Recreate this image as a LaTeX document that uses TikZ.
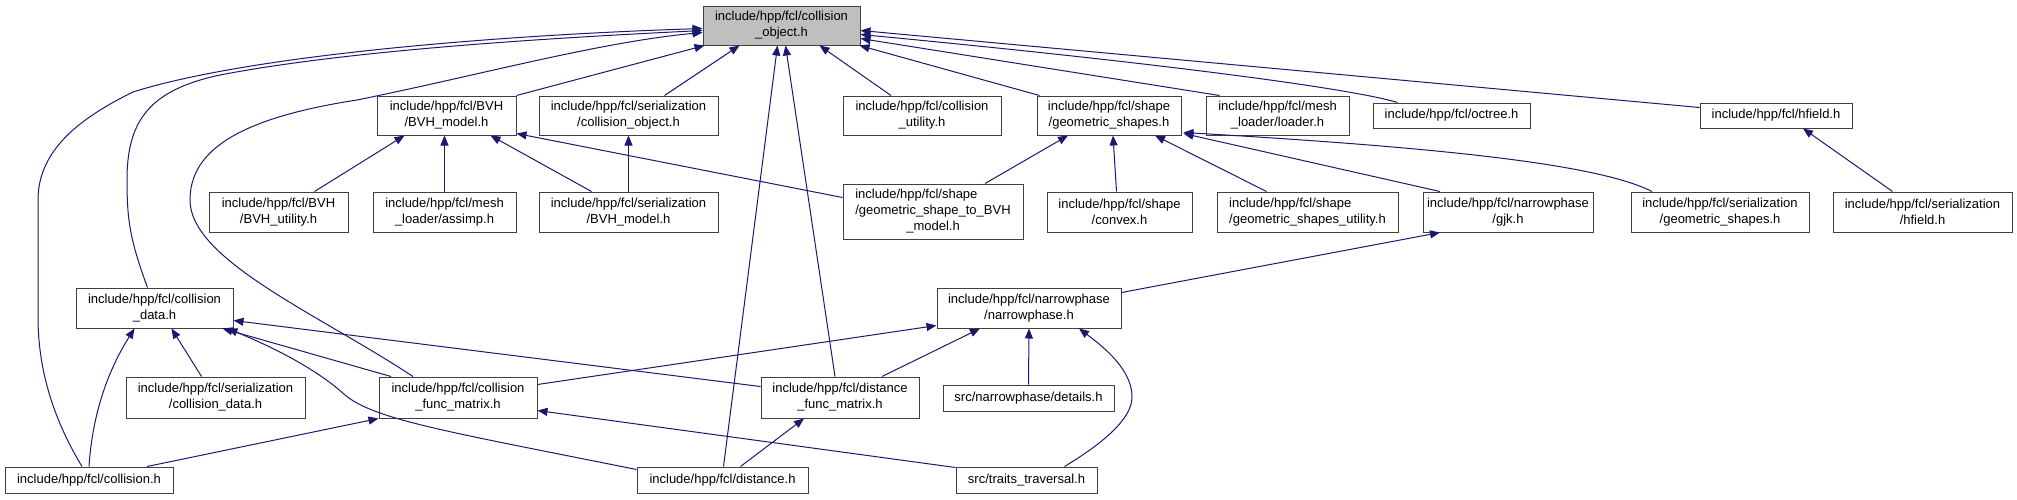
\documentclass[tikz,border=0pt]{standalone}
\usepackage{fontspec}
\setmainfont{Liberation Sans}
\usepackage{xcolor}
\usepackage{tikz}
\usetikzlibrary{arrows.meta,calc}

\definecolor{edgenavy}{HTML}{191970}
\definecolor{boxline}{HTML}{404040}
\definecolor{mainfill}{HTML}{BFBFBF}

\begin{document}
\begin{tikzpicture}[x=1pt,y=-1pt,>={Triangle[length=10pt,width=8pt]},
  hdr/.style 2 args={draw=boxline,line width=1pt,align=center,inner sep=0pt,
    minimum width=#1pt,minimum height=#2pt,font=\fontsize{13}{16}\selectfont},
  inc/.style={->,draw=edgenavy,line width=1pt}]
  \useasboundingbox (0,0) rectangle (2017,499);
  % top
  \node[hdr={157}{39},fill=mainfill] (main) at (781.5,25.5) {include/hpp/fcl/collision\\\_object.h};
  % rank 2
  \node[hdr={139}{39}] (bvh) at (446.5,115.5) {include/hpp/fcl/BVH\\/BVH\_model.h};
  \node[hdr={179}{39}] (sercobj) at (628.5,115.5) {include/hpp/fcl/serialization\\/collision\_object.h};
  \node[hdr={158}{39}] (colutil) at (922,115.5) {include/hpp/fcl/collision\\\_utility.h};
  \node[hdr={144}{39}] (geom) at (1109,115.5) {include/hpp/fcl/shape\\/geometric\_shapes.h};
  \node[hdr={143}{39}] (meshld) at (1277.5,115.5) {include/hpp/fcl/mesh\\\_loader/loader.h};
  \node[hdr={157}{25}] (octree) at (1451.5,115.5) {include/hpp/fcl/octree.h};
  \node[hdr={152}{25}] (hfield) at (1776,115.5) {include/hpp/fcl/hfield.h};
  % rank 3
  \node[hdr={139}{40}] (bvhutil) at (278.5,212) {include/hpp/fcl/BVH\\/BVH\_utility.h};
  \node[hdr={143}{40}] (assimp) at (444.5,212) {include/hpp/fcl/mesh\\\_loader/assimp.h};
  \node[hdr={179}{40}] (serbvh) at (628.5,212) {include/hpp/fcl/serialization\\/BVH\_model.h};
  \node[hdr={180}{55}] (geom2bvh) at (933,211.5) {\begin{tabular}{@{}l@{}}include/hpp/fcl/shape\\/geometric\_shape\_to\_BVH\\\multicolumn{1}{@{}c@{}}{\_model.h}\end{tabular}};
  \node[hdr={145}{40}] (convex) at (1119.5,212) {include/hpp/fcl/shape\\/convex.h};
  \node[hdr={181}{40},align=left] (geomutil) at (1307.5,212) {include/hpp/fcl/shape\\/geometric\_shapes\_utility.h};
  \node[hdr={170}{40}] (gjk) at (1508,212) {include/hpp/fcl/narrowphase\\/gjk.h};
  \node[hdr={178}{40}] (sergeom) at (1720,212) {include/hpp/fcl/serialization\\/geometric\_shapes.h};
  \node[hdr={179}{40}] (serhf) at (1922.5,212) {include/hpp/fcl/serialization\\/hfield.h};
  % rank 4
  \node[hdr={157}{40}] (coldata) at (154.5,308) {include/hpp/fcl/collision\\\_data.h};
  \node[hdr={184}{40}] (narrow) at (1029,308) {include/hpp/fcl/narrowphase\\/narrowphase.h};
  % rank 5
  \node[hdr={179}{41}] (sercoldata) at (215.5,397.5) {include/hpp/fcl/serialization\\/collision\_data.h};
  \node[hdr={158}{41}] (colfunc) at (458,397.5) {include/hpp/fcl/collision\\\_func\_matrix.h};
  \node[hdr={158}{41}] (distfunc) at (840,397.5) {include/hpp/fcl/distance\\\_func\_matrix.h};
  \node[hdr={171}{26}] (details) at (1028.5,398) {src/narrowphase/details.h};
  % rank 6
  \node[hdr={168}{26}] (collision) at (89,480) {include/hpp/fcl/collision.h};
  \node[hdr={171}{26}] (distance) at (722.5,480) {include/hpp/fcl/distance.h};
  \node[hdr={141}{26}] (traits) at (1026.5,480) {src/traits\_traversal.h};

  % includes of collision_object.h
  \draw[inc] (bvh.north east) -- ([xshift=2pt]main.south west);
  \draw[inc] ([xshift=36pt]sercobj.north) -- ([xshift=-42pt]main.south);
  \draw[inc] ([xshift=-31pt]colutil.north) -- ([xshift=38pt]main.south);
  \draw[inc] ([xshift=3pt]geom.north west) -- ([xshift=-1pt]main.south east);
  \draw[inc] ([xshift=14pt]meshld.north west) -- ([yshift=-33pt]main.north east);
  \draw[inc] ([xshift=25pt]octree.north west) .. controls (1350,88) and (1150,62) .. ([yshift=-29pt]main.north east);
  \draw[inc] ([yshift=-5pt]hfield.north west) -- ([yshift=-25pt]main.north east);
  \draw[inc] ([xshift=-7pt]collision.north) .. controls (60,430) and (38,380) .. (38,317) -- (38,200)
    .. controls (38,150) and (80,118) .. (133,92) .. controls (250,55) and (500,35) .. ([yshift=-23pt]main.north west);
  \draw[inc] ([xshift=-7pt]coldata.north) .. controls (130,240) and (127,220) .. (127,180)
    .. controls (127,120) and (150,90) .. (220,75) .. controls (350,50) and (550,38) .. ([yshift=-25pt]main.north west);
  \draw[inc] ([xshift=-45pt]colfunc.north) .. controls (320,315) and (190,260) .. (190,200)
    .. controls (190,150) and (240,118) .. (357,100) .. controls (480,75) and (600,42) .. ([yshift=-27pt]main.north west);
  \draw[inc] ([xshift=1pt]distance.north) -- ([xshift=-4pt]main.south);
  \draw[inc] ([xshift=-5pt]distfunc.north) -- ([xshift=4pt]main.south);
  % BVH_model.h
  \draw[inc] ([xshift=36pt]bvhutil.north) -- ([xshift=-42pt]bvh.south);
  \draw[inc] (assimp.north) -- ([xshift=-2pt]bvh.south);
  \draw[inc] ([xshift=-37pt]serbvh.north) -- ([xshift=44pt]bvh.south);
  \draw[inc] ([yshift=14pt]geom2bvh.west) -- ([yshift=2pt]bvh.south east);
  \draw[inc] (serbvh.north) -- (sercobj.south);
  % geometric_shapes.h
  \draw[inc] ([xshift=52pt]geom2bvh.north) -- ([xshift=-41pt]geom.south);
  \draw[inc] ([xshift=-3pt]convex.north) -- ([xshift=4pt]geom.south);
  \draw[inc] ([xshift=-41pt]geomutil.north) -- ([xshift=46pt]geom.south);
  \draw[inc] ([xshift=-68pt]gjk.north) -- ([xshift=2pt,yshift=2pt]geom.south east);
  \draw[inc] ([xshift=-68pt]sergeom.north) .. controls (1600,165) and (1450,148) .. ([xshift=2pt,yshift=3pt]geom.south east);
  \draw[inc] ([xshift=-30pt]serhf.north) -- ([xshift=27pt]hfield.south);
  \draw[inc] ([yshift=-5pt]narrow.north east) -- ([xshift=-68pt]gjk.south);
  % narrowphase.h
  \draw[inc] ([yshift=-8pt]colfunc.north east) -- ([yshift=3pt]narrow.south west);
  \draw[inc] ([xshift=42pt]distfunc.north) -- ([xshift=-49pt]narrow.south);
  \draw[inc] (details.north) -- (narrow.south);
  \draw[inc] ([xshift=38pt]traits.north) .. controls (1100,445) and (1132,420) .. (1132,397)
    .. controls (1132,370) and (1105,348) .. ([xshift=50pt]narrow.south);
  % collision_data.h
  \draw[inc] (collision.north) .. controls (92,420) and (105,375) .. ([xshift=-20pt]coldata.south);
  \draw[inc] ([xshift=-14pt]sercoldata.north) -- ([xshift=17pt]coldata.south);
  \draw[inc] ([xshift=-67pt]colfunc.north) -- ([xshift=68pt]coldata.south);
  \draw[inc] ([yshift=-3pt]distance.north west) .. controls (450,432) and (375,420) .. (345,395)
    .. controls (320,372) and (280,350) .. ([xshift=73pt]coldata.south);
  \draw[inc] ([yshift=-10pt]distfunc.north west) -- ([yshift=8pt]coldata.south east);
  % func matrices
  \draw[inc] ([xshift=58pt]collision.north) -- (colfunc.south west);
  \draw[inc] ([yshift=-1pt]traits.north west) -- ([yshift=8pt]colfunc.south east);
  \draw[inc] ([xshift=18pt]distance.north) -- ([xshift=-36pt]distfunc.south);
\end{tikzpicture}
\end{document}
